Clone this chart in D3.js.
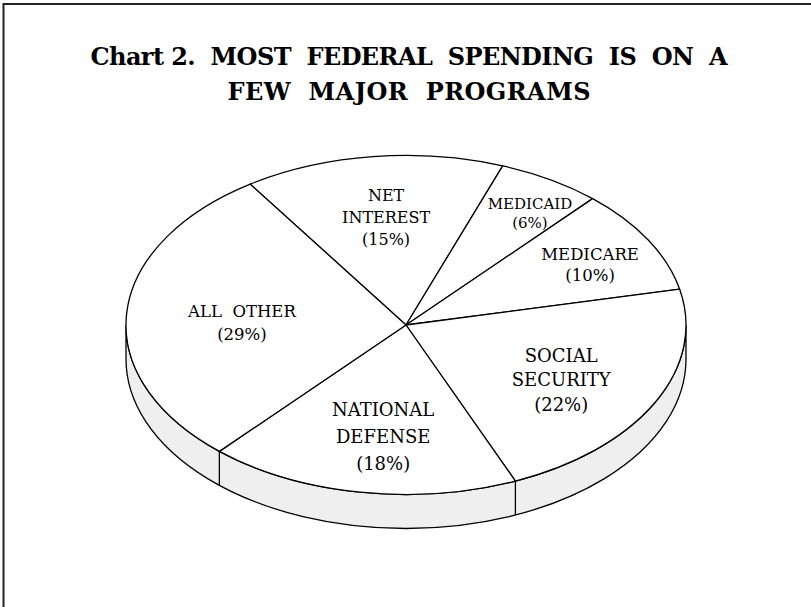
<!DOCTYPE html>
<html>
<head>
<meta charset="utf-8">
<script src="https://cdn.jsdelivr.net/npm/d3@7"></script>
<style>
  html, body { margin: 0; padding: 0; background: #fff; }
  svg { display: block; }
  text { white-space: pre; }
</style>
</head>
<body>
<div id="chart"></div>
<script>
// ---- data ----
const titleLines = ["Chart 2.  MOST  FEDERAL  SPENDING  IS  ON  A", "FEW  MAJOR  PROGRAMS"];
const categories = ["NET INTEREST", "MEDICAID", "MEDICARE", "SOCIAL SECURITY", "NATIONAL DEFENSE", "ALL OTHER"];
const shares = [15, 6, 10, 22, 18, 29];
const labelNames = [["NET", "INTEREST"], ["MEDICAID"], ["MEDICARE"], ["SOCIAL", "SECURITY"], ["NATIONAL", "DEFENSE"], ["ALL  OTHER"]];

// ---- styles / layout ----
const W = 811, H = 607;
const cx = 406, cy = 325, rx = 280, ry = 169.5, depth = 34;
const startDeg = -33.8;
const titleStyle = { size: 24, widths: [637, 363], y0: 65, lead: 35 };
// label placement: radial fraction k and small angular turn (degrees) from the slice's mid-angle
const labelStyle = {
  "NET INTEREST":     { size: 16,   lead: 22,   k: 0.638, turn: 0.4 },
  "MEDICAID":         { size: 15,   lead: 19,   k: 0.796, turn: 2.8 },
  "MEDICARE":         { size: 16.5, lead: 21,   k: 0.748, turn: 1.7 },
  "SOCIAL SECURITY":  { size: 18,   lead: 24.5, k: 0.642, turn: 2.9 },
  "NATIONAL DEFENSE": { size: 18,   lead: 27,   k: 0.660, turn: -2.3 },
  "ALL OTHER":        { size: 16.5, lead: 23,   k: 0.586, turn: -2.5 }
};

const svg = d3.select("#chart").append("svg").attr("width", W).attr("height", H);
svg.append("rect").attr("width", W).attr("height", H).attr("fill", "#fff");

// frame (only top and left edges visible in the picture)
svg.append("rect").attr("x", 3.5).attr("y", 4).attr("width", 900).attr("height", 800)
  .attr("fill", "none").attr("stroke", "#222").attr("stroke-width", 2);

// title
const title = svg.append("g").attr("font-family", "'DejaVu Serif', serif")
  .attr("font-weight", "bold").attr("font-size", titleStyle.size).attr("fill", "#000");
titleLines.forEach((t, i) => {
  title.append("text").attr("x", 409).attr("y", titleStyle.y0 + i * titleStyle.lead)
    .attr("text-anchor", "middle")
    .attr("textLength", titleStyle.widths[i]).attr("lengthAdjust", "spacing")
    .text(t);
});

// scales mapping unit circle -> ellipse
const xs = d3.scaleLinear().domain([-1, 1]).range([cx - rx, cx + rx]);
const ys = d3.scaleLinear().domain([-1, 1]).range([cy - ry, cy + ry]);
const P = (a, r = 1, dz = 0) => [xs(r * Math.sin(a)), ys(-r * Math.cos(a)) + dz];

const start = startDeg * Math.PI / 180;
const pie = d3.pie().sort(null).value(d => d).startAngle(start).endAngle(start + 2 * Math.PI);
const arcs = pie(shares);

// side wall (front half)
const right = P(Math.PI / 2), left = P(3 * Math.PI / 2);
svg.append("path")
  .attr("d", `M${right[0]},${right[1]} A${rx},${ry} 0 0 1 ${left[0]},${left[1]} L${left[0]},${left[1] + depth} A${rx},${ry} 0 0 0 ${right[0]},${right[1] + depth} Z`)
  .attr("fill", "#efefef").attr("stroke", "#000").attr("stroke-width", 1.3);

// vertical edges at slice boundaries on the front
const norm = a => ((a % (2 * Math.PI)) + 2 * Math.PI) % (2 * Math.PI);
arcs.forEach(d => {
  const a = norm(d.startAngle);
  if (a > Math.PI / 2 && a < 3 * Math.PI / 2) {
    const p = P(a);
    svg.append("line").attr("x1", p[0]).attr("y1", p[1]).attr("x2", p[0]).attr("y2", p[1] + depth)
      .attr("stroke", "#000").attr("stroke-width", 1.3);
  }
});

// top face slices
const slices = svg.append("g");
arcs.forEach(d => {
  const p0 = P(d.startAngle), p1 = P(d.endAngle);
  const large = (d.endAngle - d.startAngle) > Math.PI ? 1 : 0;
  slices.append("path")
    .attr("d", `M${cx},${cy} L${p0[0]},${p0[1]} A${rx},${ry} 0 ${large} 1 ${p1[0]},${p1[1]} Z`)
    .attr("fill", "#fff").attr("stroke", "#000").attr("stroke-width", 1.3).attr("stroke-linejoin", "round");
});

// labels
const lab = svg.append("g").attr("font-family", "'DejaVu Serif', serif").attr("fill", "#000");
arcs.forEach((d, i) => {
  const st = labelStyle[categories[i]];
  const mid = (d.startAngle + d.endAngle) / 2 + st.turn * Math.PI / 180;
  const c = P(mid, st.k);
  const lines = labelNames[i].concat([`(${shares[i]}%)`]);
  const capH = st.size * 0.73;
  const blockH = (lines.length - 1) * st.lead + capH;
  const y0 = c[1] - blockH / 2 + capH;
  lines.forEach((t, j) => {
    lab.append("text").attr("x", c[0]).attr("y", y0 + j * st.lead)
      .attr("text-anchor", "middle").attr("font-size", st.size).text(t);
  });
});
</script>
</body>
</html>
